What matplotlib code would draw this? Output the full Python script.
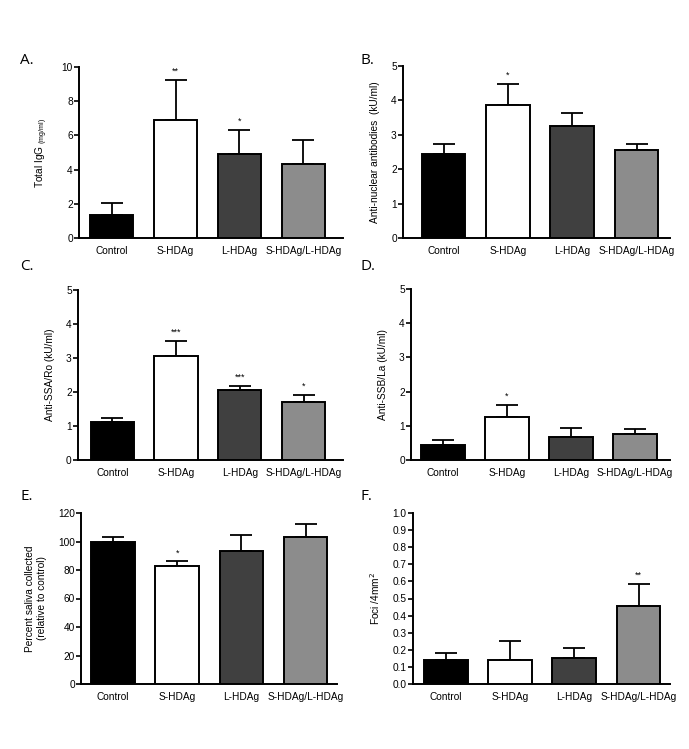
import numpy as np
import matplotlib.pyplot as plt

plt.rcParams['font.family'] = ['Liberation Sans', 'DejaVu Sans']

groups = ['Control', 'S-HDAg', 'L-HDAg', 'S-HDAg/L-HDAg']
colors = ['black', 'white', '#404040', '#8c8c8c']

# panel data: means, upper error (SEM), significance marks
igg_mean = [1.35, 6.9, 4.9, 4.3]
igg_err = [0.7, 2.35, 1.4, 1.42]
igg_sig = ['', '**', '*', '']

ana_mean = [2.45, 3.87, 3.25, 2.55]
ana_err = [0.28, 0.6, 0.38, 0.17]
ana_sig = ['', '*', '', '']

ssa_mean = [1.13, 3.07, 2.05, 1.7]
ssa_err = [0.12, 0.43, 0.13, 0.2]
ssa_sig = ['', '***', '***', '*']

ssb_mean = [0.45, 1.25, 0.68, 0.77]
ssb_err = [0.13, 0.37, 0.25, 0.15]
ssb_sig = ['', '*', '', '']

saliva_mean = [100, 82.5, 93, 103]
saliva_err = [3, 3.5, 11.5, 9]
saliva_sig = ['', '*', '', '']

foci_mean = [0.14, 0.14, 0.15, 0.455]
foci_err = [0.04, 0.11, 0.06, 0.13]
foci_sig = ['', '', '', '**']

W, H = 689, 749
fig = plt.figure(figsize=(W / 100, H / 100), dpi=100)


def panel(rect, xlim, mean, err, sig, ylim, yticks, ylabel, letter, letter_xy,
          ticklabels=None):
    # rect in pixels: left, top, right, bottom
    l, t, r, b = rect
    ax = fig.add_axes([l / W, 1 - b / H, (r - l) / W, (b - t) / H])
    x = np.arange(len(groups))
    ax.bar(x, mean, width=0.68, color=colors, edgecolor='black', linewidth=1.4,
           zorder=3)
    ax.errorbar(x, mean, yerr=[np.zeros(4), err], fmt='none', ecolor='black',
                elinewidth=1.3, capsize=8, capthick=1.3, zorder=2)
    for xi, m, e, s in zip(x, mean, err, sig):
        if s:
            ax.annotate(s, (xi, m + e), xytext=(0, 3), textcoords='offset points',
                        ha='center', va='bottom', fontsize=6.5)
    ax.set_xlim(*xlim)
    ax.set_ylim(*ylim)
    ax.set_yticks(yticks)
    if ticklabels is not None:
        ax.set_yticklabels(ticklabels)
    ax.set_xticks(x)
    ax.set_xticklabels(groups)
    ax.tick_params(axis='x', length=0, pad=6, labelsize=7.3)
    ax.tick_params(axis='y', length=3.5, width=1.2, pad=1, labelsize=7.3)
    for side in ['top', 'right']:
        ax.spines[side].set_visible(False)
    for side in ['left', 'bottom']:
        ax.spines[side].set_linewidth(1.4)
    ax.set_ylabel(ylabel, fontsize=7.3, labelpad=8)
    fig.text(letter_xy[0] / W, 1 - letter_xy[1] / H, letter, fontsize=11,
             family='Open Sans', ha='left', va='center')
    return ax


panel((79, 67, 343, 238), (-0.51, 3.62), igg_mean, igg_err, igg_sig, (0, 10),
      [0, 2, 4, 6, 8, 10], 'Total IgG $\\mathregular{_{(mg/ml)}}$', 'A.', (20, 60))
panel((403, 66, 670, 238), (-0.63, 3.52), ana_mean, ana_err, ana_sig, (0, 5),
      [0, 1, 2, 3, 4, 5], 'Anti-nuclear antibodies  (kU/ml)', 'B.', (360, 61))
panel((78, 290, 343, 460), (-0.54, 3.62), ssa_mean, ssa_err, ssa_sig, (0, 5),
      [0, 1, 2, 3, 4, 5], 'Anti-SSA/Ro (kU/ml)', 'C.', (20, 266))
panel((411, 289, 670, 460), (-0.5, 3.55), ssb_mean, ssb_err, ssb_sig, (0, 5),
      [0, 1, 2, 3, 4, 5], 'Anti-SSB/La (kU/ml)', 'D.', (360, 266))
panel((81, 513, 337, 684), (-0.5, 3.49), saliva_mean, saliva_err, saliva_sig,
      (0, 120), [0, 20, 40, 60, 80, 100, 120],
      'Percent saliva collected\n(relative to control)', 'E.', (20, 497))
fticks = np.round(np.arange(0, 1.01, 0.1), 1)
panel((413, 513, 670, 684), (-0.51, 3.49), foci_mean, foci_err, foci_sig,
      (0, 1.0), fticks, 'Foci /4mm$^2$', 'F.', (360, 497),
      ticklabels=['%.1f' % v for v in fticks])

fig.savefig('out.png', dpi=100, facecolor='white')
